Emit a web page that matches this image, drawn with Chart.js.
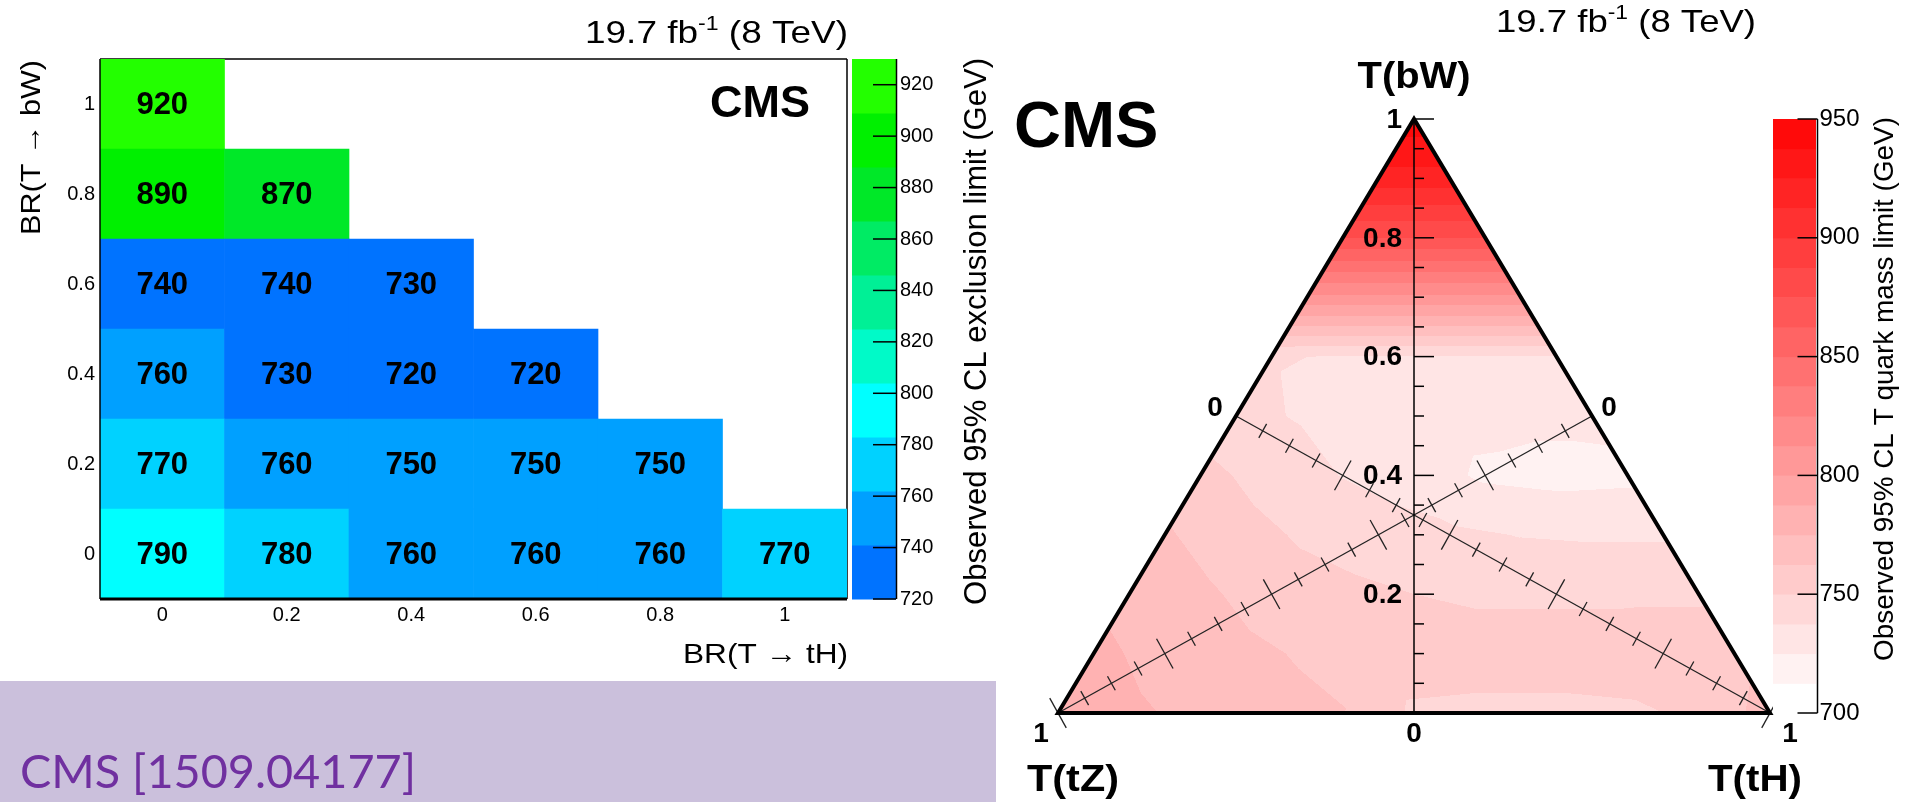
<!DOCTYPE html>
<html>
<head>
<meta charset="utf-8">
<script src="https://cdn.jsdelivr.net/npm/chart.js@4.4.0/dist/chart.umd.min.js"></script>
<style>
html, body { margin: 0; padding: 0; background: #fff; overflow: hidden; }
#left { position: absolute; left: 0; top: 0; }
#right { position: absolute; left: 996px; top: 0; }
</style>
</head>
<body>
<canvas id="left" width="996" height="802"></canvas>
<canvas id="right" width="919" height="802"></canvas>
<script>
// panel 1 : observed limit for each BR(T->bW) row / BR(T->tH) column
const brTH = ['0', '0.2', '0.4', '0.6', '0.8', '1'];
const brBW = [0, 0.2, 0.4, 0.6, 0.8, 1];
const limitRows = [
    [790, 780, 760, 760, 760, 770],
    [770, 760, 750, 750, 750, null],
    [760, 730, 720, 720, null, null],
    [740, 740, 730, null, null, null],
    [890, 870, null, null, null, null],
    [920, null, null, null, null, null]
];
const leftZTicks = [720, 740, 760, 780, 800, 820, 840, 860, 880, 900, 920];
const leftLevels = [720, 741, 762, 783, 804, 825, 846, 867, 888, 909, 930];

// panel 2 : ternary map, one row per BR(bW) = 0, 0.1 ... 1,
// entries for BR(tH) = 0, 0.1 ... 1 - BR(bW)
const ternaryRows = [
    [782, 777, 772, 767, 763, 748, 747, 747, 748, 752, 768],
    [778, 771, 766, 761, 757, 756, 756, 756, 757, 758],
    [771, 765, 757, 753, 750, 748, 748, 748, 748],
    [764, 755, 748, 744, 740, 737, 736, 736],
    [754, 745, 737, 731, 723, 721, 722],
    [741, 736, 731, 729, 728, 728],
    [738, 737, 737, 737, 737],
    [810, 810, 810, 810],
    [875, 875, 875],
    [920, 920],
    [945]
];
const rightZTicks = [700, 750, 800, 850, 900, 950];
const rightLevels = [700, 712.5, 725, 737.5, 750, 762.5, 775, 787.5, 800, 812.5, 825,
    837.5, 850, 862.5, 875, 887.5, 900, 912.5, 925, 937.5, 950];
const axisLabels = ['0', '0.2', '0.4', '0.6', '0.8', '1'];
const axisValues = [0, 0.2, 0.4, 0.6, 0.8, 1];

// colours
const leftColors = ['rgb(0,115,255)', 'rgb(0,160,255)', 'rgb(0,210,255)', 'rgb(0,255,255)',
    'rgb(0,250,200)', 'rgb(0,240,150)', 'rgb(0,235,100)', 'rgb(0,232,40)', 'rgb(0,240,0)', 'rgb(35,255,0)'];
const FONT = '"Liberation Sans", Arial, "DejaVu Sans", sans-serif';

function leftColor(v) {
    for (let k = 0; k < leftLevels.length - 1; k++) {
        if (v < leftLevels[k + 1]) return leftColors[k];
    }
    return leftColors[leftColors.length - 1];
}

function rightBand(v) {
    let k = 0;
    while (k < rightLevels.length - 2 && v >= rightLevels[k + 1]) k++;
    return k;
}
function rightGreen(k) {
    return Math.round(255 - k * 245 / 19);
}

// linear interpolation on the ternary grid
function ternaryValue(b, th) {
    const n = ternaryRows.length - 1;
    const B = b * n, H = th * n;
    const i = Math.max(0, Math.min(Math.floor(B), n - 1));
    const j = Math.max(0, Math.min(Math.floor(H), n - 1 - i));
    const u = B - i, v = H - j;
    const V = (a, c) => ternaryRows[a][c];
    if (u + v <= 1 || i + j + 1 >= n) {
        return V(i, j) * (1 - u - v) + V(i + 1, j) * u + V(i, j + 1) * v;
    }
    return V(i + 1, j + 1) * (u + v - 1) + V(i + 1, j) * (1 - v) + V(i, j + 1) * (1 - u);
}

// text helper, width = wanted length of the string
function txt(ctx, s, x, y, o) {
    ctx.save();
    ctx.font = (o.bold ? 'bold ' : '') + o.size + 'px ' + (o.family || FONT);
    ctx.fillStyle = o.color || '#000';
    ctx.textBaseline = o.base || 'alphabetic';
    ctx.textAlign = o.align || 'left';
    ctx.translate(x, y);
    if (o.rot) ctx.rotate(o.rot);
    if (o.width) {
        const w = ctx.measureText(s).width;
        ctx.scale(o.width / w, 1);
    }
    ctx.fillText(s, 0, 0);
    ctx.restore();
}

function lumi(ctx, xRight, base, width) {
    const a = '19.7 fb', sup = '-1', b = ' (8 TeV)';
    ctx.save();
    ctx.font = '32px ' + FONT;
    const wa = ctx.measureText(a).width, wb = ctx.measureText(b).width;
    ctx.font = '20px ' + FONT;
    const ws = ctx.measureText(sup).width;
    const k = width / (wa + ws + wb);
    ctx.translate(xRight - width, base);
    ctx.scale(k, 1);
    ctx.fillStyle = '#000';
    ctx.textBaseline = 'alphabetic';
    ctx.font = '32px ' + FONT;
    ctx.fillText(a, 0, 0);
    ctx.fillText(b, wa + ws, 0);
    ctx.font = '20px ' + FONT;
    ctx.fillText(sup, wa, -13);
    ctx.restore();
}

function line(ctx, x1, y1, x2, y2, w, col) {
    ctx.save();
    ctx.strokeStyle = col || '#000';
    ctx.lineWidth = w;
    ctx.beginPath();
    ctx.moveTo(x1, y1);
    ctx.lineTo(x2, y2);
    ctx.stroke();
    ctx.restore();
}

// ---------- left panel ----------
const leftDeco = {
    id: 'leftDeco',
    beforeDraw(chart) {
        const c = chart.ctx;
        c.save();
        c.fillStyle = 'rgb(203,192,220)';
        c.fillRect(0, 681, chart.width, 121);
        c.restore();
        txt(c, 'CMS [1509.04177]', 20, 788, {size: 46, family: 'Lato, "Open Sans", sans-serif',
            color: 'rgb(112,48,160)', width: 396});
    },
    beforeDatasetsDraw(chart) {
        const c = chart.ctx, a = chart.chartArea;
        line(c, a.left, a.top, a.right, a.top, 1.5);
        line(c, a.right, a.top, a.right, a.bottom, 1.5);
    },
    afterDatasetsDraw(chart) {
        const c = chart.ctx, a = chart.chartArea;
        chart.data.datasets.forEach((ds, i) => {
            const meta = chart.getDatasetMeta(i);
            meta.data.forEach((el, j) => {
                const v = limitRows[i][j];
                if (v == null) return;
                txt(c, String(v), el.x, (el.y + el.base) / 2 + 1, {size: 31, bold: true, align: 'center', base: 'middle'});
            });
        });
        line(c, a.left, a.top, a.left, a.bottom, 1.5);
        line(c, a.left, a.bottom, a.right, a.bottom, 3);

        // colour bar
        const z = chart.scales.z;
        c.save();
        for (let k = 0; k < leftLevels.length - 1; k++) {
            const y1 = z.getPixelForValue(leftLevels[k + 1]), y0 = z.getPixelForValue(leftLevels[k]);
            c.fillStyle = leftColors[k];
            c.fillRect(852, y1, 44, y0 - y1 + 0.5);
        }
        c.restore();
        line(c, 896.5, z.getPixelForValue(930), 896.5, z.getPixelForValue(720), 1.5);
        leftZTicks.forEach(t => {
            const y = z.getPixelForValue(t);
            line(c, 873, y, 896, y, 1.5);
            txt(c, String(t), 900, y, {size: 20, base: 'middle'});
        });

        // titles
        lumi(c, 848, 43, 263);
        txt(c, 'CMS', 710, 117, {size: 45, bold: true});
        txt(c, 'BR(T \u2192 bW)', 32, 60, {size: 28, rot: -Math.PI / 2, align: 'right', base: 'middle', width: 175});
        txt(c, 'BR(T \u2192 tH)', 848, 663, {size: 28, align: 'right', width: 165});
        txt(c, 'Observed 95% CL exclusion limit (GeV)', 977, 58,
            {size: 31, rot: -Math.PI / 2, align: 'right', base: 'middle', width: 547});
    }
};

new Chart(document.getElementById('left'), {
    type: 'bar',
    data: {
        labels: brTH,
        datasets: brBW.map((bw, i) => ({
            label: 'BR(T\u2192bW) = ' + bw,
            data: limitRows[i].map(v => v == null ? null : [bw - 0.1, bw + 0.1]),
            backgroundColor: limitRows[i].map(v => v == null ? 'rgba(0,0,0,0)' : leftColor(v)),
            grouped: false,
            barPercentage: 1,
            categoryPercentage: 1,
            borderWidth: 0,
            borderSkipped: false
        }))
    },
    options: {
        responsive: false,
        animation: false,
        layout: { padding: { left: 0, top: 59, right: 149, bottom: 163 } },
        plugins: { legend: { display: false }, tooltip: { enabled: false } },
        scales: {
            x: {
                grid: { display: false, drawTicks: false },
                border: { display: false },
                ticks: { color: '#000', font: { family: FONT, size: 20 }, padding: 4 },
                afterFit: s => { s.height = 40; }
            },
            y: {
                min: -0.1,
                max: 1.1,
                grid: { display: false, drawTicks: false },
                border: { display: false },
                afterBuildTicks: s => { s.ticks = brBW.map(v => ({ value: v })); },
                ticks: { color: '#000', font: { family: FONT, size: 20 }, padding: 5, callback: v => String(v) },
                afterFit: s => { s.width = 100; }
            },
            z: { type: 'linear', position: 'right', display: false, min: 720, max: 930 }
        }
    },
    plugins: [leftDeco]
});

// ---------- right panel (ternary) ----------
const OX = 996;
const gridPoints = [];
ternaryRows.forEach((row, i) => row.forEach((v, j) => {
    const b = i / 10, th = j / 10, tz = 1 - b - th;
    gridPoints.push({ x: th - tz, y: b, v: v });
}));

const ternaryDeco = {
    id: 'ternaryDeco',
    beforeDatasetsDraw(chart) {
        const c = chart.ctx, xs = chart.scales.x, ys = chart.scales.y, a = chart.chartArea;
        const x0 = Math.floor(a.left), y0 = Math.floor(a.top);
        const w = Math.ceil(a.right) - x0 + 1, h = Math.ceil(a.bottom) - y0 + 1;
        const img = c.getImageData(x0, y0, w, h);
        const d = img.data;
        for (let py = 0; py < h; py++) {
            const b = ys.getValueForPixel(y0 + py + 0.5);
            if (b < 0 || b > 1) continue;
            for (let px = 0; px < w; px++) {
                const X = xs.getValueForPixel(x0 + px + 0.5);
                const th = (1 - b + X) / 2, tz = (1 - b - X) / 2;
                if (th < 0 || tz < 0) continue;
                const g = rightGreen(rightBand(ternaryValue(b, th)));
                const o = (py * w + px) * 4;
                d[o] = 255; d[o + 1] = g; d[o + 2] = g; d[o + 3] = 255;
            }
        }
        c.putImageData(img, x0, y0);
    },
    afterDatasetsDraw(chart) {
        const c = chart.ctx, xs = chart.scales.x, ys = chart.scales.y, z = chart.scales.z;
        const P = (X, Y) => [xs.getPixelForValue(X), ys.getPixelForValue(Y)];
        const L = P(-1, 0), R = P(1, 0), T = P(0, 1), O = P(0, 0);

        // diagonal axes, value t from vertex (1) to opposite mid point (0)
        const diag = f => {
            const p1 = f(1), p0 = f(0);
            let dx = p0[0] - p1[0], dy = p0[1] - p1[1];
            const n = Math.hypot(dx, dy);
            dx /= n; dy /= n;
            line(c, p1[0], p1[1], p0[0], p0[1], 1.3, '#222');
            for (let k = 0; k <= 20; k++) {
                const p = f(k / 20), half = k % 4 === 0 ? 17 : 8;
                line(c, p[0] - dy * half, p[1] + dx * half, p[0] + dy * half, p[1] - dx * half, 1.3, '#222');
            }
        };
        diag(t => P((1 - t) / 2 - t, (1 - t) / 2));   // T -> tZ
        diag(t => P(t - (1 - t) / 2, (1 - t) / 2));   // T -> tH

        // vertical axis T -> bW
        line(c, O[0], O[1], T[0], T[1], 1.5);
        for (let k = 0; k <= 20; k++) {
            const y = ys.getPixelForValue(k / 20);
            line(c, O[0], y, O[0] + (k % 4 === 0 ? 20 : 10), y, 1.5);
        }

        // triangle frame
        c.save();
        c.strokeStyle = '#000';
        c.lineWidth = 4;
        c.lineJoin = 'miter';
        c.beginPath();
        c.moveTo(L[0], L[1]);
        c.lineTo(T[0], T[1]);
        c.lineTo(R[0], R[1]);
        c.closePath();
        c.stroke();
        c.restore();

        // axis labels
        axisValues.forEach((v, i) => {
            if (v === 0) return;
            txt(c, axisLabels[i], O[0] - 12, ys.getPixelForValue(v) + 1, {size: 28, bold: true, align: 'right', base: 'middle'});
        });
        const lb = {size: 28, bold: true, align: 'center', base: 'middle'};
        txt(c, axisLabels[0], O[0], O[1] + 21, lb);
        txt(c, axisLabels[5], L[0] - 17, L[1] + 21, lb);
        txt(c, axisLabels[5], R[0] + 20, R[1] + 21, lb);
        const ml = P(-0.5, 0.5), mr = P(0.5, 0.5);
        txt(c, axisLabels[0], ml[0] - 21, ml[1] - 8, lb);
        txt(c, axisLabels[0], mr[0] + 17, mr[1] - 8, lb);

        txt(c, 'T(bW)', T[0], 88, {size: 36, bold: true, align: 'center', width: 113});
        txt(c, 'T(tZ)', 1027 - OX, 791, {size: 36, bold: true, width: 92});
        txt(c, 'T(tH)', 1708 - OX, 791, {size: 36, bold: true, width: 94});
        txt(c, 'CMS', 1014 - OX, 147, {size: 65, bold: true});
        lumi(c, 1756 - OX, 32, 260);

        // colour bar
        c.save();
        for (let k = 0; k < rightLevels.length - 1; k++) {
            const y1 = z.getPixelForValue(rightLevels[k + 1]), y0 = z.getPixelForValue(rightLevels[k]);
            const g = rightGreen(k);
            c.fillStyle = 'rgb(255,' + g + ',' + g + ')';
            c.fillRect(1773 - OX, y1, 43, y0 - y1 + 0.5);
        }
        c.restore();
        const ax = 1817.5 - OX;
        line(c, ax, z.getPixelForValue(950), ax, z.getPixelForValue(700), 1.5);
        rightZTicks.forEach(t => {
            const y = z.getPixelForValue(t);
            line(c, ax - 20, y, ax, y, 1.5);
            txt(c, String(t), ax + 2, y, {size: 24, base: 'middle'});
        });
        txt(c, 'Observed 95% CL T quark mass limit (GeV)', 1885 - OX, 117,
            {size: 28, rot: -Math.PI / 2, align: 'right', base: 'middle', width: 544});
    }
};

new Chart(document.getElementById('right'), {
    type: 'scatter',
    data: { datasets: [{ label: 'limit', data: gridPoints, pointRadius: 0 }] },
    options: {
        responsive: false,
        animation: false,
        layout: { padding: { left: 62, right: 145, top: 119, bottom: 89 } },
        plugins: { legend: { display: false }, tooltip: { enabled: false } },
        scales: {
            x: { type: 'linear', min: -1, max: 1, display: false },
            y: { type: 'linear', min: 0, max: 1, display: false },
            z: { type: 'linear', position: 'right', min: 700, max: 950, display: false }
        }
    },
    plugins: [ternaryDeco]
});
</script>
</body>
</html>
